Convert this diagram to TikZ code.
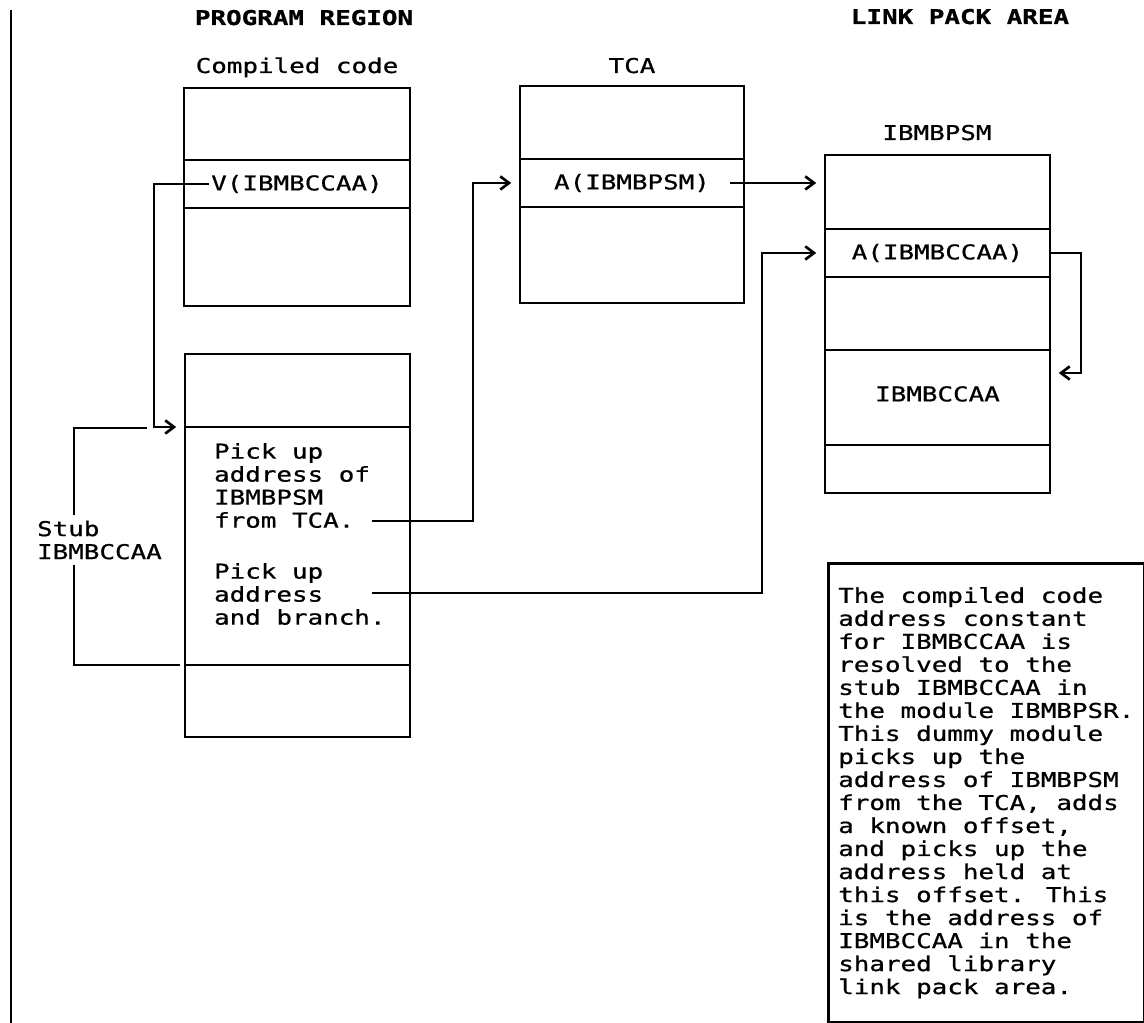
\documentclass[tikz,border=0pt]{standalone}
\usepackage{fontspec}
\newfontfamily\ibmfont[FakeStretch=1.27, FakeBold=0.8]{DejaVu Sans Mono}
\usetikzlibrary{arrows.meta}

\begin{document}
\begin{tikzpicture}[x=0.02cm, y=-0.02cm, line join=miter, >={Straight Barb[length=5pt,width=7.5pt]},
  every node/.style={font=\ibmfont\fontsize{11.6pt}{13.1pt}\selectfont},
  heading/.style={anchor=base, font=\ibmfont\bfseries\fontsize{11.6pt}{13.1pt}\selectfont},
  cell/.style={draw, line width=1.5pt, minimum width=#1, inner sep=0pt, outer sep=0pt},
  txt/.style={inner sep=1pt},
  link/.style={line width=1.5pt},
  arrow/.style={line width=1.5pt, ->, shorten >=5pt}]
  \useasboundingbox (0,0) rectangle (1144,1023);

  % ========================================================
  % 0. CORNERS OF THE STORAGE BOXES AND BEND POINTS
  % ========================================================
  \coordinate (CC) at (184,88);   % compiled code
  \coordinate (TC) at (520,86);   % TCA
  \coordinate (PS) at (825,155);  % IBMBPSM
  \coordinate (ST) at (185,354);  % stub

  \coordinate (vbend) at (154,300);
  \coordinate (tbend) at (473,300);
  \coordinate (pbend) at (762,400);
  \coordinate (lbend) at (1081,300);
  \coordinate (loopend) at (1050,373);
  \coordinate (tcaref) at (372,521);
  \coordinate (brref) at (372,593);
  \coordinate (stubtop) at (147,428);
  \coordinate (stubleft) at (74,500);

  % ========================================================
  % 1. HEADINGS
  % ========================================================
  \draw[link] (11,10) -- (11,1023);
  \node[heading] (progreg) at (304,25) {PROGRAM REGION};
  \node[heading] (lpa) at (960,24) {LINK PACK AREA};
  \node[anchor=base] (cclbl) at (297,73) {Compiled code};
  \node[anchor=base] (tcalbl) at (632,73) {TCA};
  \node[anchor=base] (pslbl) at (937,140) {IBMBPSM};

  % ========================================================
  % 2. STORAGE BOXES
  % ========================================================
  % Compiled code
  \node[cell=4.52cm, minimum height=1.44cm, anchor=north west] (cc1) at (CC) {};
  \node[cell=4.52cm, minimum height=0.96cm, anchor=north] (cc2) at (cc1.south) {};
  \node[cell=4.52cm, minimum height=1.96cm, anchor=north] (cc3) at (cc2.south) {};
  \node[txt] (vcon) at (cc2) {V(IBMBCCAA)};

  % TCA
  \node[cell=4.48cm, minimum height=1.46cm, anchor=north west] (ta1) at (TC) {};
  \node[cell=4.48cm, minimum height=0.96cm, anchor=north] (ta2) at (ta1.south) {};
  \node[cell=4.48cm, minimum height=1.92cm, anchor=north] (ta3) at (ta2.south) {};
  \node[txt] (tadr) at (ta2) {A(IBMBPSM)};

  % IBMBPSM
  \node[cell=4.5cm, minimum height=1.48cm, anchor=north west] (ps1) at (PS) {};
  \node[cell=4.5cm, minimum height=0.96cm, anchor=north] (ps2) at (ps1.south) {};
  \node[cell=4.5cm, minimum height=1.46cm, anchor=north] (ps3) at (ps2.south) {};
  \node[cell=4.5cm, minimum height=1.9cm, anchor=north] (ps4) at (ps3.south) {};
  \node[cell=4.5cm, minimum height=0.96cm, anchor=north] (ps5) at (ps4.south) {};
  \node[txt] (padr) at (ps2) {A(IBMBCCAA)};
  \node[txt] (pccaa) at ([yshift=2pt]ps4) {IBMBCCAA};

  % Stub
  \node[cell=4.5cm, minimum height=1.46cm, anchor=north west] (st1) at (ST) {};
  \node[cell=4.5cm, minimum height=4.76cm, anchor=north] (st2) at (st1.south) {};
  \node[cell=4.5cm, minimum height=1.44cm, anchor=north] (st3) at (st2.south) {};
  \node[txt, anchor=north west, align=left] (pick1) at (212,441) {Pick up\\address of\\IBMBPSM\\from TCA.};
  \node[txt, anchor=north west, align=left] (pick2) at (212,561) {Pick up\\address\\and branch.};

  % ========================================================
  % 3. CONNECTORS
  % ========================================================
  \draw[arrow] (vcon.west) -| (vbend) |- (st1.south west);
  \draw[arrow] (tcaref) -| (tbend) |- (ta2.west);
  \draw[arrow, shorten <=10pt] (tadr.east) -- (ps1.west |- tadr.east);
  \draw[arrow] (brref) -| (pbend) |- (ps2.west);
  \draw[arrow] (ps2.east) -| (lbend) |- (loopend);

  % stub bracket
  \draw[link, shorten >=3pt] (stubtop) -| (stubleft) |- (st3.north west);
  \node[txt, fill=white, inner ysep=3pt, anchor=west, align=left] (stublbl) at (35,540) {Stub\\IBMBCCAA};

  % ========================================================
  % 4. NOTE
  % ========================================================
  \node[draw, line width=1.5pt, anchor=north west, minimum width=6.32cm, minimum height=9.18cm, align=left, inner sep=0pt] (note) at (827,562)
    {The compiled code\\address constant\\for IBMBCCAA is\\resolved to the\\stub IBMBCCAA in\\the module IBMBPSR.\\This dummy module\\picks up the\\address of IBMBPSM\\from the TCA, adds\\a known offset,\\and picks up the\\address held at\\this offset. This\\is the address of\\IBMBCCAA in the\\shared library\\link pack area.};

\end{tikzpicture}
\end{document}
